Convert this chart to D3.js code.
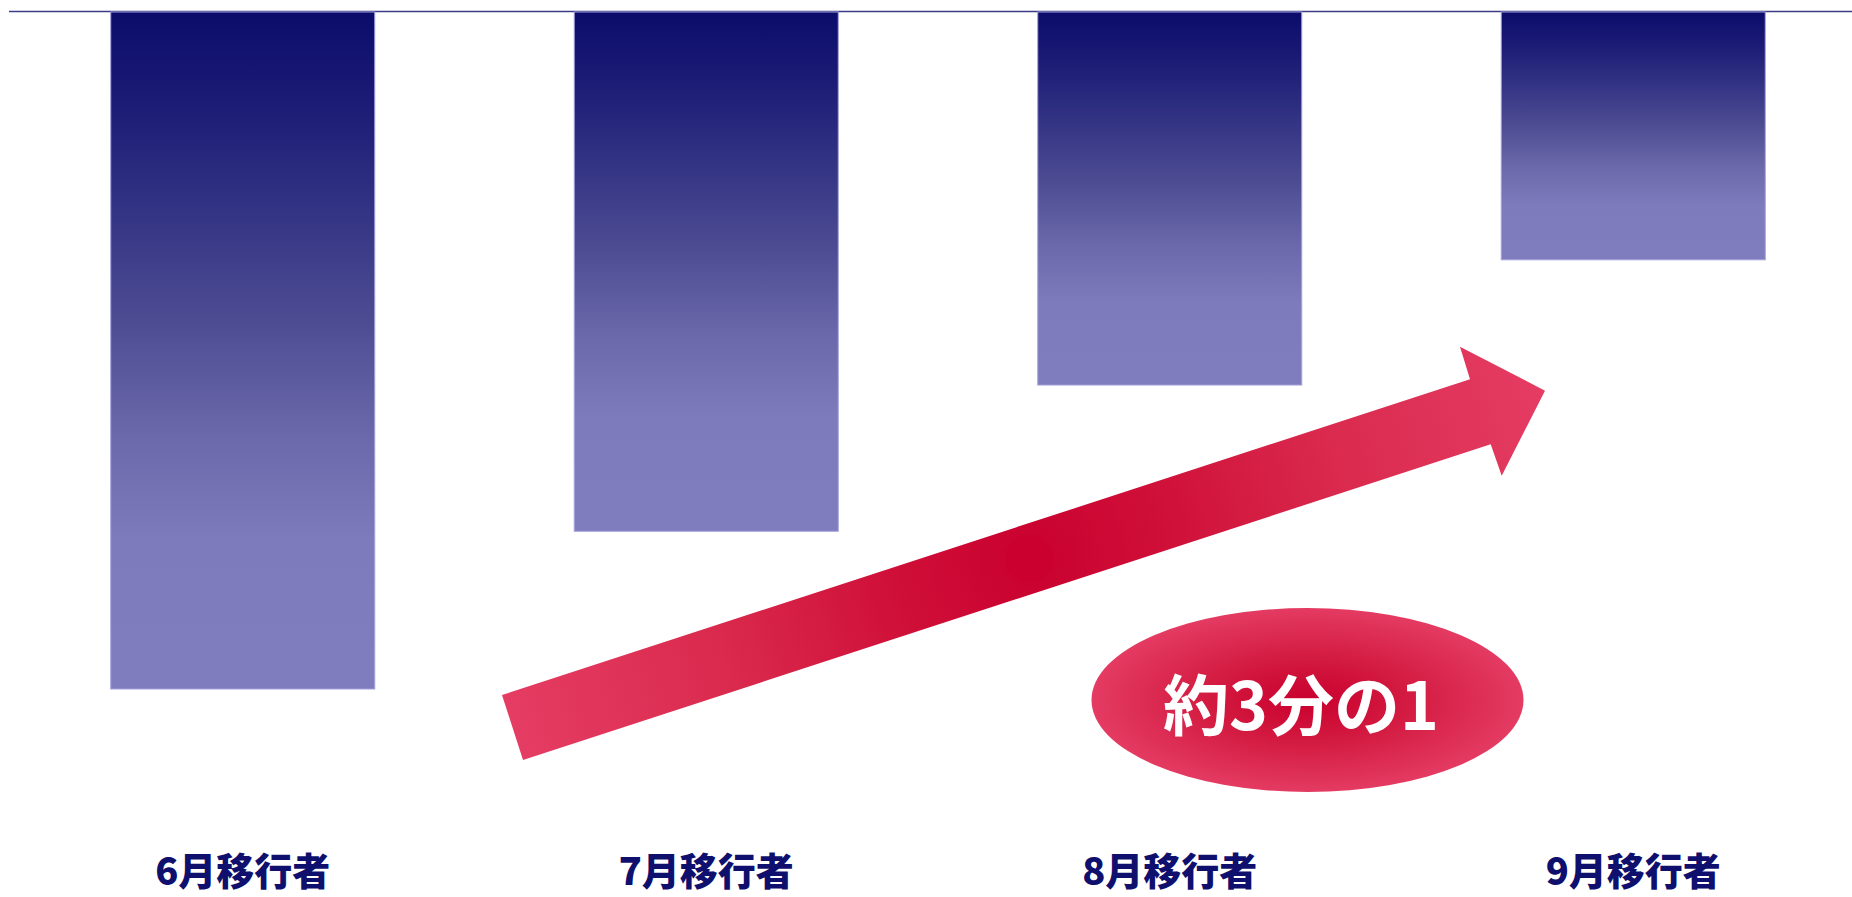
<!DOCTYPE html>
<html lang="ja">
<head>
<meta charset="utf-8">
<title>移行者数の推移</title>
<script src="https://cdn.jsdelivr.net/npm/d3@7"></script>
<style>
  html, body { margin: 0; padding: 0; background: #ffffff; overflow: hidden; }
  svg { display: block; }
  text { font-family: "Noto Sans CJK JP", "Noto Sans", sans-serif; }
</style>
</head>
<body>
<svg id="chart" width="1852" height="897"></svg>
<script>
// Categories (months) and relative number of migrants (June = 100)
const categories = ["6月移行者", "7月移行者", "8月移行者", "9月移行者"];
const values = [100, 76.7, 55.1, 36.6];
const valueMax = 100;

// Callout text
const calloutText = "約3分の1";

const W = 1852, H = 897;
const svg = d3.select("#chart");

const x = d3.scaleBand()
  .domain(categories)
  .range([11, 1865])
  .paddingInner(0.4304)
  .paddingOuter(0.2152);

// Bars hang down from the baseline at the top
const y = d3.scaleLinear()
  .domain([0, valueMax])
  .range([12, 689]);

const defs = svg.append("defs");

// Per-bar vertical gradient: dark navy at the baseline fading to lavender
const barGrad = defs.append("linearGradient")
  .attr("id", "barGrad")
  .attr("x1", 0).attr("y1", 0).attr("x2", 0).attr("y2", 1);
[
  [0.00, "#0b0b6b"],
  [0.18, "#22227a"],
  [0.45, "#4c4b92"],
  [0.62, "#6a68aa"],
  [0.78, "#7d7bbc"],
  [1.00, "#7f7dbd"]
].forEach(([o, c]) => barGrad.append("stop").attr("offset", o).attr("stop-color", c));

// Arrow: radial gradient, deep crimson at the centre to pink at the ends
const arrowGrad = defs.append("radialGradient")
  .attr("id", "arrowGrad")
  .attr("gradientUnits", "userSpaceOnUse")
  .attr("cx", 1029).attr("cy", 559).attr("r", 540);
[
  [0.00, "#c9002e"],
  [0.25, "#cf0f38"],
  [0.60, "#da2a4e"],
  [1.00, "#e53c63"]
].forEach(([o, c]) => arrowGrad.append("stop").attr("offset", o).attr("stop-color", c));

const ellGrad = defs.append("radialGradient")
  .attr("id", "ellGrad")
  .attr("cx", "50%").attr("cy", "50%").attr("r", "50%");
[
  [0.00, "#c9002e"],
  [0.45, "#d31a40"],
  [1.00, "#e43b62"]
].forEach(([o, c]) => ellGrad.append("stop").attr("offset", o).attr("stop-color", c));

// Baseline
svg.append("line")
  .attr("x1", 9).attr("x2", W)
  .attr("y1", y(0) - 0.5).attr("y2", y(0) - 0.5)
  .attr("stroke", "#3c3c88")
  .attr("stroke-width", 1.5);

// Bars
svg.append("g").selectAll("rect")
  .data(values)
  .join("rect")
  .attr("x", (d, i) => x(categories[i]))
  .attr("y", y(0))
  .attr("width", x.bandwidth())
  .attr("height", d => y(d) - y(0))
  .attr("fill", "url(#barGrad)")
  .attr("stroke", "#a3a1dc")
  .attr("stroke-width", 1);

// Category labels along the bottom
svg.append("g").selectAll("text")
  .data(categories)
  .join("text")
  .attr("x", d => x(d) + x.bandwidth() / 2)
  .attr("y", 885)
  .attr("text-anchor", "middle")
  .attr("font-size", 38)
  .attr("font-weight", 900)
  .attr("fill", "#0f0f6e")
  .text(d => d);

// Rising arrow
const arrowPts = [
  [502, 695], [1470, 379.3], [1460, 346.7], [1545, 390.7],
  [1501.7, 475.7], [1490.7, 444.3], [523, 760]
];
svg.append("path")
  .attr("d", d3.line()(arrowPts) + "Z")
  .attr("fill", "url(#arrowGrad)");
svg.append("circle")
  .attr("cx", 1029).attr("cy", 559).attr("r", 24)
  .attr("fill", "#cb0030")
  .attr("opacity", 0.8);

// Callout ellipse
svg.append("ellipse")
  .attr("cx", 1307.5).attr("cy", 700)
  .attr("rx", 216).attr("ry", 92)
  .attr("fill", "url(#ellGrad)");

svg.append("text")
  .attr("x", 1301)
  .attr("y", 730)
  .attr("text-anchor", "middle")
  .attr("font-size", 66)
  .attr("font-weight", 700)
  .attr("fill", "#ffffff")
  .text(calloutText);
</script>
</body>
</html>
